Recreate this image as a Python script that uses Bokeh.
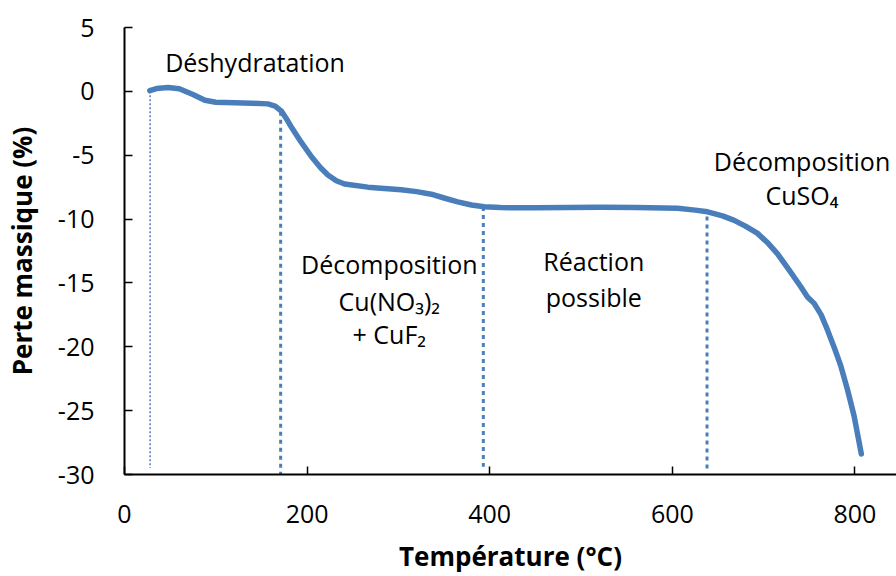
from bokeh.plotting import figure
from bokeh.models import Range1d, FixedTicker
from bokeh.core.properties import value
from bokeh.embed import file_html
from bokeh.resources import INLINE

# --- data ---
temperature = [27.7, 35, 47.8, 60, 75, 88, 100, 120, 140, 157, 165, 171.8, 177, 182.7,
               193.7, 204.6, 215, 222.8, 232, 241, 266.5, 303, 320, 336, 350, 365, 380,
               394, 412, 450, 522, 560, 605.8, 625, 638.6, 655, 667.8, 680, 693, 705,
               715, 728, 740.7, 748, 755.3, 763, 770, 778, 784.5, 792, 799, 807]
mass_loss = [0.05, 0.22, 0.3, 0.2, -0.25, -0.7, -0.85, -0.9, -0.93, -0.98, -1.15, -1.55,
             -2.1, -2.8, -4.0, -5.1, -6.0, -6.55, -7.0, -7.25, -7.5, -7.7, -7.85, -8.05,
             -8.35, -8.65, -8.9, -9.04, -9.1, -9.12, -9.08, -9.1, -9.16, -9.3, -9.43,
             -9.75, -10.1, -10.55, -11.1, -11.9, -12.7, -14.0, -15.3, -16.1, -16.6,
             -17.5, -18.7, -20.2, -21.5, -23.4, -25.4, -28.4]

divider_temp = [28, 171, 393, 638]
divider_top = [0.0, -1.6, -9.05, -9.8]
divider_bottom = [-29.5, -30.0, -29.4, -29.8]

label_text = ["Déshydratation", "Décomposition", "Cu(NO₃)₂", "+ CuF₂",
              "Réaction", "possible", "Décomposition", "CuSO₄"]
label_temp = [143, 290, 290, 290, 514, 514, 742, 742]
label_mass = [2.3, -13.55, -16.4, -19.0, -13.25, -16.1, -5.42, -8.15]

x_ticks = [0, 200, 400, 600, 800]
y_ticks = [5, 0, -5, -10, -15, -20, -25, -30]

FONT = "Open Sans"
BLUE = "#4a7ebb"

p = figure(width=896, height=576, output_backend="svg", toolbar_location=None,
           x_range=Range1d(0, 845.5), y_range=Range1d(-30, 5),
           min_border_left=123, min_border_top=27, min_border_right=0,
           min_border_bottom=102)
p.outline_line_color = None
p.xgrid.visible = False
p.ygrid.visible = False
p.background_fill_color = "white"
p.border_fill_color = "white"

for ax in (p.xaxis[0], p.yaxis[0]):
    ax.axis_line_color = "black"
    ax.axis_line_width = 2
    ax.major_tick_line_color = "black"
    ax.major_tick_line_width = 1.5
    ax.major_tick_in = 8
    ax.major_tick_out = 0
    ax.minor_tick_line_color = None
    ax.major_label_text_font = FONT
    ax.major_label_text_font_size = "25px"
    ax.major_label_text_color = "black"
    ax.axis_label_text_font = FONT
    ax.axis_label_text_font_size = "26px"
    ax.axis_label_text_font_style = "bold"
    ax.axis_label_text_color = "black"

p.xaxis[0].ticker = FixedTicker(ticks=x_ticks)
p.yaxis[0].ticker = FixedTicker(ticks=y_ticks)
p.yaxis[0].major_label_overrides = {t: str(t) for t in y_ticks}
p.xaxis[0].axis_label = "Température (°C)"
p.yaxis[0].axis_label = "Perte massique (%)"
p.xaxis[0].major_label_standoff = 30
p.xaxis[0].axis_label_standoff = 12
p.yaxis[0].major_label_standoff = 30
p.yaxis[0].axis_label_standoff = 15

# vertical dotted dividers
p.segment(x0=divider_temp[:1], y0=divider_top[:1], x1=divider_temp[:1], y1=divider_bottom[:1],
          line_color=BLUE, line_width=1.5, line_dash="2 2")
p.segment(x0=divider_temp[1:], y0=divider_top[1:], x1=divider_temp[1:], y1=divider_bottom[1:],
          line_color=BLUE, line_width=3, line_dash="4 4")

# TGA curve
p.line(temperature, mass_loss, line_color=BLUE, line_width=5.5,
       line_cap="round", line_join="round")

# annotations
p.text(x=label_temp, y=label_mass, text=label_text, text_font=value(FONT),
       text_font_size="25px", text_align="center", text_baseline="alphabetic",
       text_color="black")

open("out.html", "w").write(file_html(p, INLINE))
